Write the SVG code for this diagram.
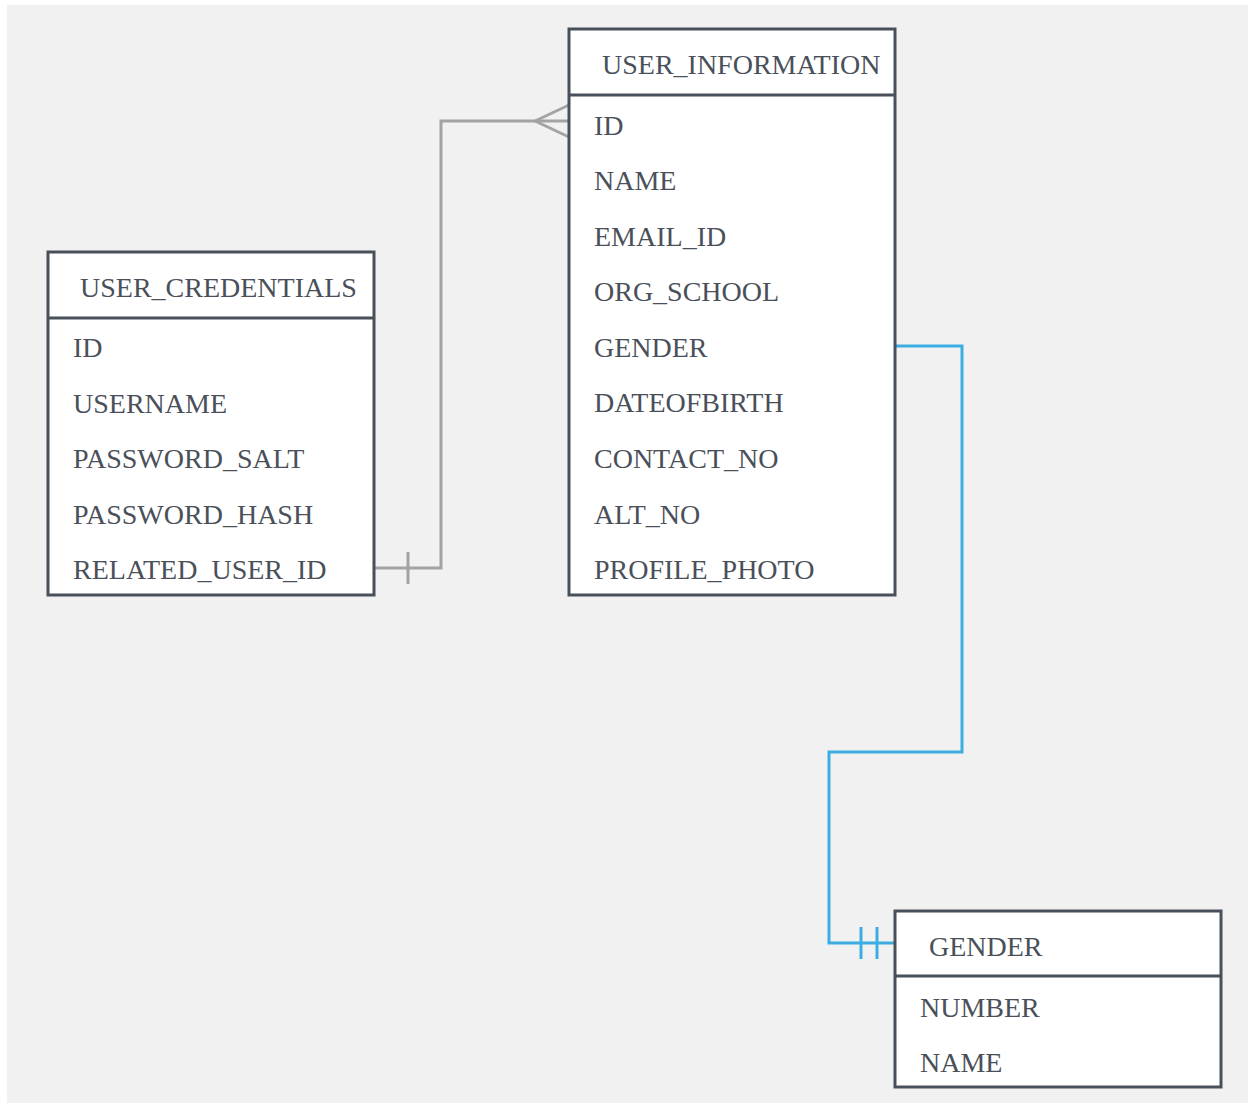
<svg xmlns="http://www.w3.org/2000/svg" width="1253" height="1105" viewBox="0 0 1253 1105">
<style>
.box{fill:#ffffff;stroke:#48505a;stroke-width:3}
.div{stroke:#48505a;stroke-width:3}
.t{font-family:"Liberation Serif","DejaVu Serif",serif;font-size:28px;fill:#4a5059}
.gray{fill:none;stroke:#a3a3a3;stroke-width:3}
.blue{fill:none;stroke:#3badE2;stroke-width:3}
</style>
<rect x="0" y="0" width="1253" height="1105" fill="#ffffff"/>
<rect x="7" y="5" width="1241" height="1098" fill="#f1f1f1"/>
<g id="connectors">
<path class="gray" d="M374,568 H441 V121 H569"/>
<path class="gray" d="M408,552 V584"/>
<path class="gray" d="M535,121 L569,105 M535,121 L569,137"/>
<path class="blue" d="M895,346 H962 V752 H829 V943 H895"/>
<path class="blue" d="M861,927 V959 M877,927 V959"/>
</g>
<g id="user_credentials">
<rect class="box" x="48" y="252" width="326" height="343"/>
<line class="div" x1="48" y1="318" x2="374" y2="318"/>
<text class="t" x="80" y="297">USER_CREDENTIALS</text>
<text class="t" x="73" y="357">ID</text>
<text class="t" x="73" y="413">USERNAME</text>
<text class="t" x="73" y="468">PASSWORD_SALT</text>
<text class="t" x="73" y="524">PASSWORD_HASH</text>
<text class="t" x="73" y="579">RELATED_USER_ID</text>
</g>
<g id="user_information">
<rect class="box" x="569" y="29" width="326" height="566"/>
<line class="div" x1="569" y1="95" x2="895" y2="95"/>
<text class="t" x="602" y="74">USER_INFORMATION</text>
<text class="t" x="594" y="135">ID</text>
<text class="t" x="594" y="190">NAME</text>
<text class="t" x="594" y="246">EMAIL_ID</text>
<text class="t" x="594" y="301">ORG_SCHOOL</text>
<text class="t" x="594" y="357">GENDER</text>
<text class="t" x="594" y="412">DATEOFBIRTH</text>
<text class="t" x="594" y="468">CONTACT_NO</text>
<text class="t" x="594" y="524">ALT_NO</text>
<text class="t" x="594" y="579">PROFILE_PHOTO</text>
</g>
<g id="gender">
<rect class="box" x="895" y="911" width="326" height="176"/>
<line class="div" x1="895" y1="976" x2="1221" y2="976"/>
<text class="t" x="929" y="956">GENDER</text>
<text class="t" x="920" y="1017">NUMBER</text>
<text class="t" x="920" y="1072">NAME</text>
</g>
</svg>
